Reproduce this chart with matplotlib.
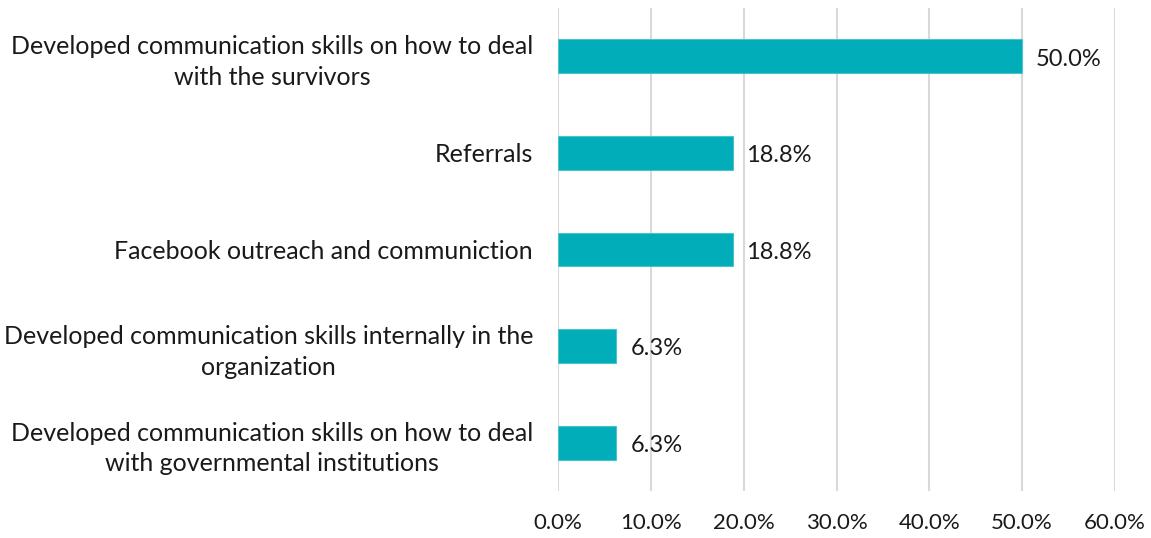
import matplotlib
matplotlib.use("Agg")
import matplotlib.pyplot as plt
from matplotlib.ticker import FuncFormatter

categories = [
    "Developed communication skills on how to deal\nwith the survivors",
    "Referrals",
    "Facebook outreach and communiction",
    "Developed communication skills internally in the\norganization",
    "Developed communication skills on how to deal\nwith governmental institutions",
]
values = [50.0, 18.8, 18.8, 6.3, 6.3]
x_ticks = [0, 10, 20, 30, 40, 50, 60]

bar_color = "#00ADB9"
text_color = "#1a1a1a"
plt.rcParams["font.family"] = ["Lato", "DejaVu Sans"]

fig = plt.figure(figsize=(11.51, 5.38), dpi=100)
ax = fig.add_axes([558 / 1151, 1 - 491 / 538, (1115 - 558) / 1151, (491 - 8) / 538])

ypos = list(range(len(categories)))
ax.barh(ypos, values, height=0.35, color=bar_color, edgecolor="#4cc3cb",
        linewidth=0.8, zorder=3)
ax.set_ylim(len(categories) - 0.5, -0.5)
ax.set_xlim(0, 60)

for y, v in zip(ypos, values):
    ax.text(v + 1.5, y + 0.03, f"{v:.1f}%", va="center", ha="left",
            fontsize=17, color=text_color)

ax.set_yticks(ypos)
ax.set_yticklabels(categories, fontsize=18, color=text_color,
                   multialignment="center", linespacing=1.4)
ax.set_xticks(x_ticks)
ax.xaxis.set_major_formatter(FuncFormatter(lambda v, p: f"{v:.1f}%"))
ax.tick_params(axis="x", length=0, pad=16, labelsize=16, labelcolor=text_color)
ax.tick_params(axis="y", length=0, pad=18)

ax.grid(axis="x", color="#d9d9d9", linewidth=1.5, zorder=0)
for s in ax.spines.values():
    s.set_visible(False)

fig.savefig("out.png", dpi=100, facecolor="white")
